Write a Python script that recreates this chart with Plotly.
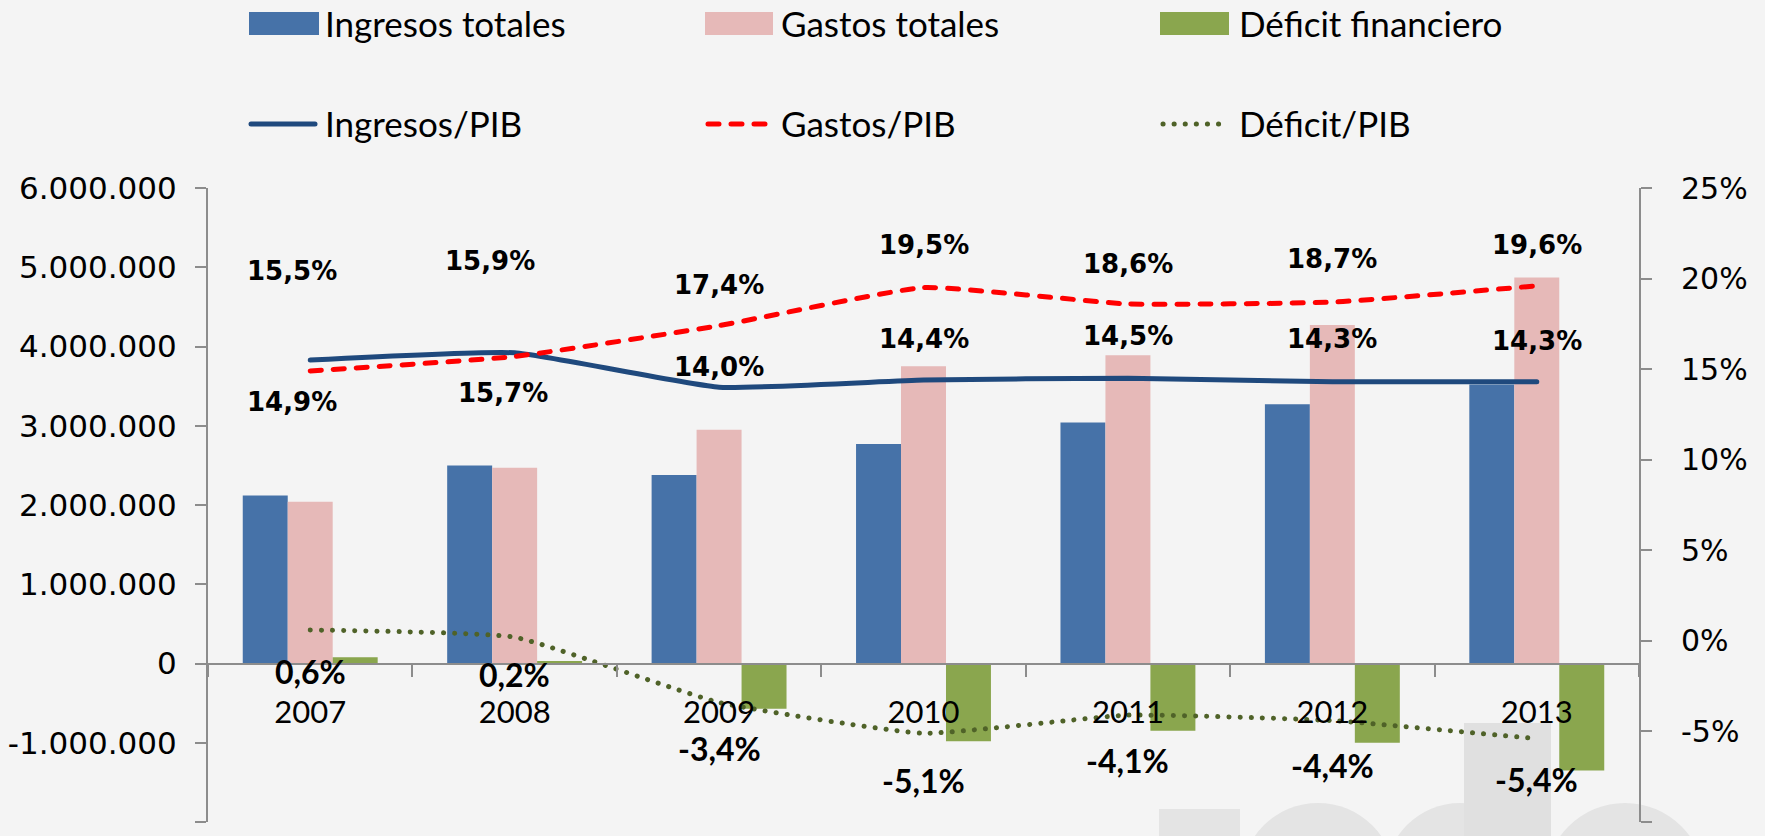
import plotly.graph_objects as go

# ---------------- data ----------------
years = ["2007", "2008", "2009", "2010", "2011", "2012", "2013"]
ingresos_totales = [2120000, 2500000, 2380000, 2770000, 3040000, 3270000, 3520000]
gastos_totales = [2040000, 2470000, 2950000, 3750000, 3890000, 4270000, 4870000]
deficit_financiero = [80000, 30000, -570000, -980000, -850000, -1000000, -1350000]
ingresos_pib = [15.5, 15.9, 14.0, 14.4, 14.5, 14.3, 14.3]
gastos_pib = [14.9, 15.7, 17.4, 19.5, 18.6, 18.7, 19.6]
deficit_pib = [0.6, 0.2, -3.4, -5.1, -4.1, -4.4, -5.4]

left_ticks = [-2000000, -1000000, 0, 1000000, 2000000, 3000000, 4000000, 5000000, 6000000]
right_ticks = [-10, -5, 0, 5, 10, 15, 20, 25]

# label pixel offsets (style only)
ingresos_dy = [89, 92, 20, 41, 42, 43, 41]
ingresos_dx = [-18, -25, 0, 0, 0, 0, 0]
gastos_dy = [-31, -37, 41, 43, 40, 43, 41]
gastos_dx = [-18, -12, 0, 0, 0, 0, 0]
deficit_dy = [-42, -37, -46, -47, -45, -45, -41]

# ---------------- style ----------------
W, H = 1765, 836
ML, MR, MT, MB = 208, 126, 188, 14
PW, PH = W - ML - MR, H - MT - MB

C_BLUE = "#4672A8"
C_PINK = "#E6B9B8"
C_GREEN = "#8AA64E"
C_LINE_BLUE = "#1F497D"
C_RED = "#FF0000"
C_DOT = "#4F6228"
C_AXIS = "#8C8C8C"

def px_x(px):
    return (px - ML) / PW

def px_y(py):
    return (H - MB - py) / PH

def fmt_thousands(v):
    return f"{v:,}".replace(",", ".")

def fmt_pct(v):
    return f"{v:.1f}%".replace(".", ",")

fig = go.Figure()

fig.add_trace(go.Bar(x=years, y=ingresos_totales, name="Ingresos totales",
                     marker=dict(color=C_BLUE, line=dict(width=0)), yaxis="y"))
fig.add_trace(go.Bar(x=years, y=gastos_totales, name="Gastos totales",
                     marker=dict(color=C_PINK, line=dict(width=0)), yaxis="y"))
fig.add_trace(go.Bar(x=years, y=deficit_financiero, name="Déficit financiero",
                     marker=dict(color=C_GREEN, line=dict(width=0)), yaxis="y"))

fig.add_trace(go.Scatter(x=years, y=ingresos_pib, name="Ingresos/PIB", mode="lines",
                         line=dict(color=C_LINE_BLUE, width=5, shape="spline", smoothing=0.4),
                         yaxis="y2"))
fig.add_trace(go.Scatter(x=years, y=gastos_pib, name="Gastos/PIB", mode="lines",
                         line=dict(color=C_RED, width=5, dash="11px,12px", shape="spline", smoothing=0.4),
                         yaxis="y2"))
fig.add_trace(go.Scatter(x=years, y=deficit_pib, name="Déficit/PIB", mode="lines",
                         line=dict(color=C_DOT, width=5, dash="0.1px,11px", shape="spline", smoothing=0.4),
                         yaxis="y2"))

annotations = []
VERD = "DejaVu Sans"
for i, yr in enumerate(years):
    annotations.append(dict(x=i, y=ingresos_pib[i], xref="x", yref="y2", showarrow=False,
                            text="<b>" + fmt_pct(ingresos_pib[i]) + "</b>",
                            xshift=ingresos_dx[i], yshift=ingresos_dy[i],
                            xanchor="center", yanchor="middle",
                            font=dict(family=VERD, size=26, color="black")))
    annotations.append(dict(x=i, y=gastos_pib[i], xref="x", yref="y2", showarrow=False,
                            text="<b>" + fmt_pct(gastos_pib[i]) + "</b>",
                            xshift=gastos_dx[i], yshift=gastos_dy[i],
                            xanchor="center", yanchor="middle",
                            font=dict(family=VERD, size=26, color="black")))
    annotations.append(dict(x=i, y=deficit_pib[i], xref="x", yref="y2", showarrow=False,
                            text="<b>" + fmt_pct(deficit_pib[i]) + "</b>",
                            yshift=deficit_dy[i],
                            xanchor="center", yanchor="middle",
                            font=dict(family="Lato", size=32, color="black")))

# ---- manual legend ----
shapes = []
leg_items_bars = [("Ingresos totales", C_BLUE, 249, 319, 323),
                  ("Gastos totales", C_PINK, 705, 773, 779),
                  ("Déficit financiero", C_GREEN, 1160, 1229, 1237)]
for name, col, x0, x1, tx in leg_items_bars:
    shapes.append(dict(type="rect", xref="paper", yref="paper",
                       x0=px_x(x0), x1=px_x(x1), y0=px_y(35), y1=px_y(12),
                       fillcolor=col, line=dict(width=0)))
    annotations.append(dict(x=px_x(tx), y=px_y(23), xref="paper", yref="paper",
                            text=name, showarrow=False, xanchor="left", yanchor="middle",
                            font=dict(family="Lato", size=35, color="black")))

leg_items_lines = [("Ingresos/PIB", C_LINE_BLUE, "solid", 5, 251, 315, 323),
                   ("Gastos/PIB", C_RED, "11px,12px", 5, 708, 771, 779),
                   ("Déficit/PIB", C_DOT, "0.1px,11px", 5, 1163, 1226, 1237)]
for name, col, dash, w, x0, x1, tx in leg_items_lines:
    shapes.append(dict(type="line", xref="paper", yref="paper",
                       x0=px_x(x0), x1=px_x(x1), y0=px_y(124), y1=px_y(124),
                       line=dict(color=col, width=w, dash=dash)))
    annotations.append(dict(x=px_x(tx), y=px_y(123), xref="paper", yref="paper",
                            text=name, showarrow=False, xanchor="left", yanchor="middle",
                            font=dict(family="Lato", size=35, color="black")))

# ---- faint watermark (decorative) ----
WM = "#e4e4e4"
shapes.append(dict(type="rect", xref="paper", yref="paper", layer="below",
                   x0=px_x(1159), x1=px_x(1240), y0=px_y(H + 5), y1=px_y(809),
                   fillcolor=WM, line=dict(width=0)))
for cx, r in [(1318, 77), (1460, 75), (1625, 80)]:
    shapes.append(dict(type="circle", xref="paper", yref="paper", layer="below",
                       x0=px_x(cx - r), x1=px_x(cx + r), y0=px_y(803 + 2 * r), y1=px_y(803),
                       fillcolor=WM, line=dict(width=0)))
shapes.append(dict(type="rect", xref="paper", yref="paper", layer="below",
                   x0=px_x(1464), x1=px_x(1551), y0=px_y(H + 5), y1=px_y(723),
                   fillcolor="#e0e0e0", line=dict(width=0)))

y_range = [left_ticks[0], left_ticks[-1]]
zero_pos = (0 - y_range[0]) / (y_range[1] - y_range[0])

fig.update_layout(
    width=W, height=H,
    margin=dict(l=ML, r=MR, t=MT, b=MB, pad=0, autoexpand=False),
    paper_bgcolor="#f4f4f4",
    plot_bgcolor="rgba(0,0,0,0)",
    showlegend=False,
    barmode="group", bargap=0.34, bargroupgap=0,
    font=dict(family="Lato", color="black"),
    xaxis=dict(type="category", range=[-0.5, 6.5], anchor="free", position=zero_pos,
               showline=True, linecolor=C_AXIS, linewidth=2, automargin=False,
               ticks="outside", tickson="boundaries", ticklen=12, tickwidth=2, tickcolor=C_AXIS,
               tickfont=dict(family="Lato", size=31, color="black"),
               ticklabelstandoff=21,
               showgrid=False, zeroline=False),
    yaxis=dict(range=y_range, tickvals=left_ticks, ticktext=[fmt_thousands(v) for v in left_ticks],
               showline=True, linecolor=C_AXIS, linewidth=2, automargin=False,
               ticks="outside", ticklen=11, tickwidth=2, tickcolor=C_AXIS,
               tickfont=dict(family=VERD, size=31, color="black"),
               ticklabelstandoff=12,
               showgrid=False, zeroline=False),
    yaxis2=dict(range=[right_ticks[0], right_ticks[-1]], overlaying="y", side="right",
                tickvals=right_ticks, ticktext=[f"{v}%" for v in right_ticks],
                showline=True, linecolor=C_AXIS, linewidth=2, automargin=False,
                ticks="outside", ticklen=11, tickwidth=2, tickcolor=C_AXIS,
                tickfont=dict(family=VERD, size=30, color="black"),
                ticklabelstandoff=23,
                showgrid=False, zeroline=False),
    shapes=shapes,
    annotations=annotations,
)

post_js = (
    "document.body.style.margin='0px';"
    "var st=document.createElement('style');"
    "st.innerHTML='.scatterlayer path.js-line{stroke-linecap:round;stroke-linejoin:round;}"
    " .shapelayer path{stroke-linecap:round;}';"
    "document.head.appendChild(st);"
)

fig.write_html("out.html", post_script=post_js, config={"displayModeBar": False})
